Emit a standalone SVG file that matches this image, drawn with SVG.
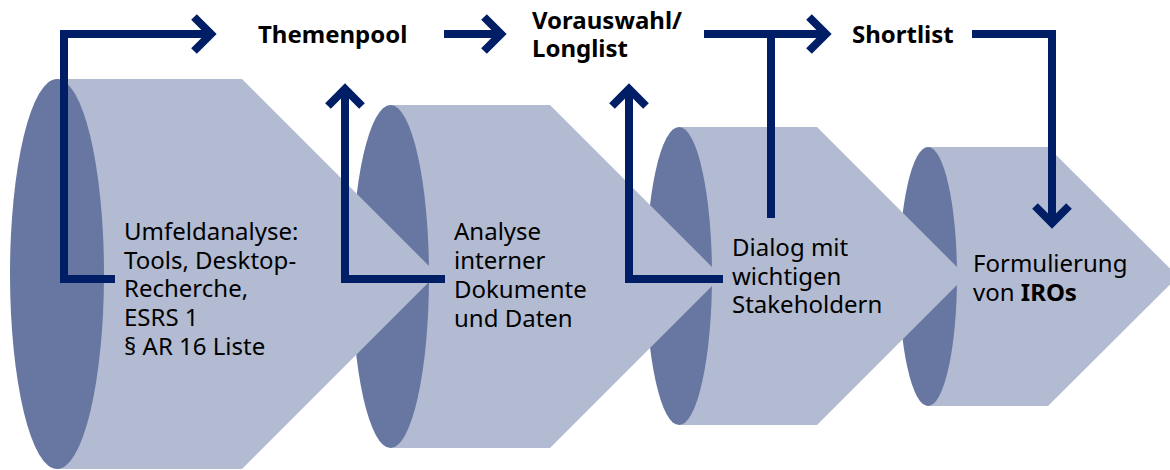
<svg xmlns="http://www.w3.org/2000/svg" width="1170" height="470" viewBox="0 0 1170 470">
<style>
.body{fill:#b2bbd1}
.face{fill:#6777a2}
.con{fill:none;stroke:#001e66;stroke-width:8;stroke-linejoin:miter}
.t{font-family:"Noto Sans","Open Sans","Liberation Sans",sans-serif;font-size:24px;fill:#000}
.b{font-weight:bold}
</style>
<defs>
<marker id="ah" markerUnits="userSpaceOnUse" orient="auto" refX="0" refY="0" markerWidth="40" markerHeight="40" overflow="visible">
<path d="M-17,-17 L0,0 L-17,17" fill="none" stroke="#001e66" stroke-width="8" stroke-linejoin="miter"/>
</marker>
</defs>
<rect width="1170" height="470" fill="#fff"/>
<g id="step4">
<path class="body" d="M928,147 H1048 L1178,276.5 L1048,406 H928 Z"/>
<ellipse class="face" cx="928" cy="276.5" rx="29" ry="129.5"/>
<text class="t" x="973" y="272">Formulierung</text>
<text class="t" x="973" y="301">von <tspan class="b">IROs</tspan></text>
</g>
<g id="step3">
<path class="body" d="M679,127 H817 L966,276 L817,425 H679 Z"/>
<ellipse class="face" cx="679" cy="276" rx="33" ry="149"/>
</g>
<g id="step2">
<path class="body" d="M390,105 H550 L721.5,276.5 L550,448 H390 Z"/>
<ellipse class="face" cx="390.5" cy="276.5" rx="38.5" ry="171.5"/>
</g>
<g id="step1">
<path class="body" d="M57,79 H242 L437,274 L242,469 H57 Z"/>
<ellipse class="face" cx="57" cy="274" rx="47" ry="195"/>
</g>
<g id="labels-steps">
<g id="label1"><text class="t" x="124" y="240">Umfeldanalyse:</text><text class="t" x="124" y="268.5">Tools, Desktop-</text><text class="t" x="124" y="297">Recherche,</text><text class="t" x="124" y="326">ESRS 1</text><text class="t" x="124" y="355">§ AR 16 Liste</text></g>
<g id="label2"><text class="t" x="454" y="240">Analyse</text><text class="t" x="454" y="269">interner</text><text class="t" x="454" y="298">Dokumente</text><text class="t" x="454" y="327">und Daten</text></g>
<g id="label3"><text class="t" x="732" y="256">Dialog mit</text><text class="t" x="732" y="285">wichtigen</text><text class="t" x="732" y="313">Stakeholdern</text></g>
</g>
<g id="themenpool"><text class="t b" x="258" y="43">Themenpool</text></g>
<g id="longlist"><text class="t b" x="532" y="29">Vorauswahl/</text><text class="t b" x="532" y="57">Longlist</text></g>
<g id="shortlist"><text class="t b" x="852" y="43">Shortlist</text></g>
<g id="connectors">
<path class="con" d="M115,279 H64 V34 H211" marker-end="url(#ah)"/>
<path class="con" d="M445,279 H345 V89" marker-end="url(#ah)"/>
<path class="con" d="M723,279 H629 V89" marker-end="url(#ah)"/>
<path class="con" d="M444,34 H501" marker-end="url(#ah)"/>
<path class="con" d="M704,34 H826" marker-end="url(#ah)"/>
<path class="con" d="M771,218 V34"/>
<path class="con" d="M972,34 H1052 V223" marker-end="url(#ah)"/>
</g>
</svg>
